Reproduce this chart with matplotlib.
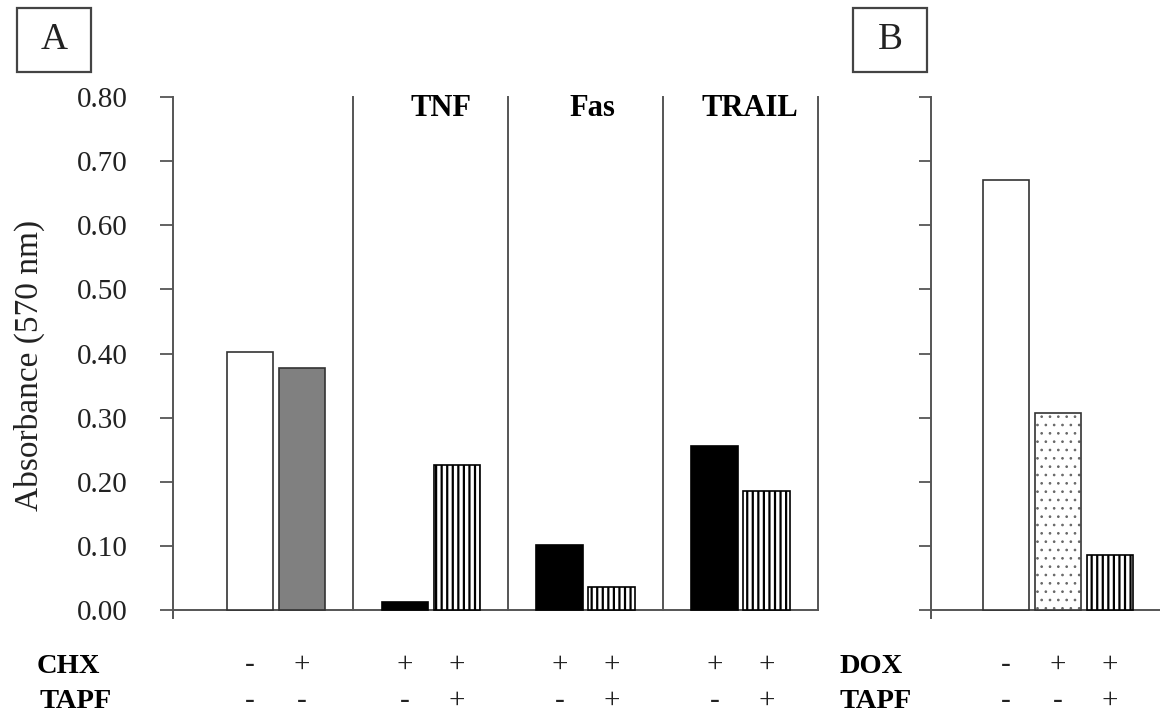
import matplotlib
matplotlib.use('Agg')
import matplotlib.pyplot as plt
from matplotlib.patches import Rectangle
from matplotlib.transforms import blended_transform_factory

plt.rcParams['font.family'] = ['Liberation Serif', 'DejaVu Serif']
plt.rcParams['hatch.linewidth'] = 1.6

# panel A data (left / right bar of each group)
groups_a = ['', 'TNF', 'Fas', 'TRAIL']
left_vals = [0.403, 0.012, 0.101, 0.256]
right_vals = [0.377, 0.226, 0.036, 0.186]
chx_a = ['-', '+', '+', '+', '+', '+', '+', '+']
tapf_a = ['-', '-', '-', '+', '-', '+', '-', '+']

# panel B data
b_vals = [0.670, 0.307, 0.086]
dox_b = ['-', '+', '+']
tapf_b = ['-', '-', '+']

yticks = [0.0, 0.1, 0.2, 0.3, 0.4, 0.5, 0.6, 0.7, 0.8]

W, H = 1160, 713
fig = plt.figure(figsize=(W / 100, H / 100), dpi=100)

def fx(px):
    return px / W

def fy(py):
    return (H - py) / H

ymin = -0.012
bot_px = 610 + 0.012 * 641.25
axA = fig.add_axes([fx(173), fy(bot_px), fx(818) - fx(173), (bot_px - 97) / H])
axB = fig.add_axes([fx(931), fy(bot_px), fx(1160) - fx(931), (bot_px - 97) / H])

edge = '#333333'
spine_c = '#555555'

# ---- panel A
off, bw = 0.168, 0.30
xs = list(range(len(groups_a)))
for i in xs:
    lc = 'white' if i == 0 else 'black'
    axA.bar(i - off, left_vals[i], bw, color=lc, edgecolor=edge if i == 0 else 'black', linewidth=1.2, zorder=3)
    if i == 0:
        axA.bar(i + off, right_vals[i], bw, color='#808080', edgecolor=edge, linewidth=1.2, zorder=3)
    else:
        axA.bar(i + off, right_vals[i], bw, color='white', edgecolor='black', hatch='|||', linewidth=1.2, zorder=3)
for d in [0.5, 1.5, 2.5, 3.5]:
    axA.plot([d, d], [0, 0.8], color=spine_c, lw=1.4, clip_on=False, zorder=2)
lab_shift = [0, 0.065, 0.04, 0.06]
for i, g in enumerate(groups_a):
    if g:
        axA.text(i + lab_shift[i], 0.77, g, ha='center', va='baseline', fontsize=22, fontweight='bold')

axA.set_xlim(-0.665, 3.5)
axA.set_ylim(ymin, 0.8)
axA.set_yticks(yticks)
axA.set_yticklabels([f'{v:.2f}' for v in yticks], fontsize=21, color='#222222')
axA.tick_params(axis='y', direction='out', length=9.4, width=1.3, color=spine_c, pad=23)
axA.set_xticks([])
for s in ['top', 'right']:
    axA.spines[s].set_visible(False)
axA.spines['bottom'].set_position(('data', 0))
for s in ['left', 'bottom']:
    axA.spines[s].set_color(spine_c)
    axA.spines[s].set_linewidth(1.4)

# ---- panel B
xb = list(range(len(b_vals)))
axB.bar(xb[0], b_vals[0], 0.9, color='white', edgecolor=edge, linewidth=1.2, zorder=3)
with plt.rc_context({'hatch.linewidth': 0.7}):
    axB.bar(xb[1], b_vals[1], 0.9, color='white', edgecolor='#666666', hatch='..', linewidth=0, zorder=3)
axB.bar(xb[1], b_vals[1], 0.9, color='none', edgecolor=edge, linewidth=1.2, zorder=4)
axB.bar(xb[2], b_vals[2], 0.9, color='white', edgecolor='black', hatch='|||', linewidth=1.2, zorder=3)
axB.set_xlim(-1.44, 2.96)
axB.set_ylim(ymin, 0.8)
axB.set_yticks(yticks)
axB.set_yticklabels([])
axB.tick_params(axis='y', direction='out', length=9, width=1.3, color=spine_c)
axB.set_xticks([])
for s in ['top', 'right']:
    axB.spines[s].set_visible(False)
axB.spines['bottom'].set_position(('data', 0))
for s in ['left', 'bottom']:
    axB.spines[s].set_color(spine_c)
    axB.spines[s].set_linewidth(1.4)

# ---- treatment rows
row1, row2 = fy(672), fy(708)
trA = blended_transform_factory(axA.transData, fig.transFigure)
pos_a = [i + s for i in xs for s in (-off, off)]
for x, c, t in zip(pos_a, chx_a, tapf_a):
    axA.text(x, row1, c, transform=trA, ha='center', va='baseline', fontsize=21, color='#222222')
    axA.text(x, row2, t, transform=trA, ha='center', va='baseline', fontsize=21, color='#222222')
trB = blended_transform_factory(axB.transData, fig.transFigure)
for x, c, t in zip(xb, dox_b, tapf_b):
    axB.text(x, row1, c, transform=trB, ha='center', va='baseline', fontsize=21, color='#222222')
    axB.text(x, row2, t, transform=trB, ha='center', va='baseline', fontsize=21, color='#222222')

fig.text(fx(37), fy(673), 'CHX', ha='left', va='baseline', fontsize=20.5, fontweight='bold')
fig.text(fx(40), row2, 'TAPF', ha='left', va='baseline', fontsize=20.5, fontweight='bold')
fig.text(fx(839), fy(673), 'DOX', ha='left', va='baseline', fontsize=20.5, fontweight='bold')
fig.text(fx(839), row2, 'TAPF', ha='left', va='baseline', fontsize=20.5, fontweight='bold')

fig.text(fx(29), fy(365), 'Absorbance (570 nm)', rotation=90, ha='center', va='center',
         fontsize=24, color='#222222')

# panel letters in boxes
for (x0, x1, lab) in [(17, 91, 'A'), (853, 927, 'B')]:
    fig.patches.append(Rectangle((fx(x0), fy(72)), fx(x1) - fx(x0), (72 - 8) / H,
                                 transform=fig.transFigure, fill=False, edgecolor='#444444', lw=1.6))
    fig.text(fx((x0 + x1) / 2), fy(40), lab, ha='center', va='center', fontsize=27, color='#222222')

fig.savefig('out.png', dpi=100)
